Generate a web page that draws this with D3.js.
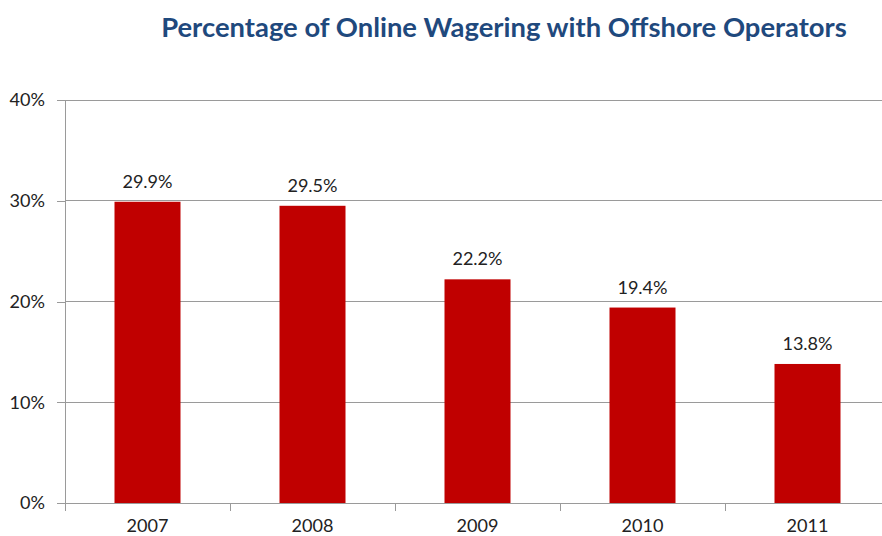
<!DOCTYPE html>
<html><head><meta charset="utf-8">
<script src="https://cdn.jsdelivr.net/npm/d3@7"></script>
<style>body{margin:0;background:#fff}svg{display:block}</style>
</head><body>
<svg id="c" width="882" height="536"></svg>
<script>
const years = ["2007","2008","2009","2010","2011"];
const values = [29.9, 29.5, 22.2, 19.4, 13.8];
const yTicks = [0, 10, 20, 30, 40];
const title = "Percentage of Online Wagering with Offshore Operators";

const svg = d3.select("#c");
const font = "Lato, 'Open Sans', sans-serif";
const mLeft = 65, mRight = 890, mTop = 100, mBottom = 503;

// scale font-size of a single text node so its width matches target
function fitSize(txt, target, weight) {
  const t = svg.append("text").attr("font-family", font).attr("font-size", 20)
    .attr("font-weight", weight || "normal").text(txt);
  const w = t.node().getComputedTextLength();
  t.remove();
  return 20 * target / w;
}

const x = d3.scaleBand().domain(years).range([mLeft, mRight]).paddingInner(0.6).paddingOuter(0.3);
const y = d3.scaleLinear().domain([0, 40]).range([mBottom, mTop]);

const titleSize = fitSize(title, 686, "bold");
svg.append("text").attr("x", 504).attr("y", 37).attr("text-anchor", "middle")
  .attr("font-family", font).attr("font-weight", "bold").attr("font-size", titleSize)
  .attr("fill", "#1F497D").text(title);

const labelSize = (fitSize("2007", 40) + fitSize("40%", 35) + fitSize("29.9%", 53)) / 3;

// gridlines
svg.append("g").selectAll("line").data(yTicks.filter(d => d > 0)).join("line")
  .attr("x1", mLeft).attr("x2", mRight).attr("y1", d => y(d)).attr("y2", d => y(d))
  .attr("stroke", "#9a9a9a").attr("stroke-width", 1).attr("shape-rendering", "crispEdges");

// y axis
const ya = svg.append("g").attr("transform", `translate(${mLeft},0)`)
  .call(d3.axisLeft(y).tickValues(yTicks).tickFormat(d => d + "%").tickSize(8).tickPadding(12));
ya.select(".domain").attr("stroke", "#9a9a9a").attr("shape-rendering", "crispEdges");
ya.selectAll(".tick line").attr("stroke", "#9a9a9a").attr("shape-rendering", "crispEdges");
ya.selectAll("text").attr("font-family", font).attr("font-size", labelSize).attr("fill", "#222");

// bars
svg.append("g").selectAll("rect").data(years).join("rect")
  .attr("x", (d) => x(d)).attr("width", x.bandwidth())
  .attr("y", (d, i) => y(values[i])).attr("height", (d, i) => y(0) - y(values[i]))
  .attr("fill", "#C00000");

// x axis
const step = x.step();
svg.append("line").attr("x1", mLeft).attr("x2", mRight).attr("y1", mBottom).attr("y2", mBottom)
  .attr("stroke", "#9a9a9a").attr("shape-rendering", "crispEdges");
svg.append("g").selectAll("line").data(d3.range(years.length + 1)).join("line")
  .attr("x1", i => mLeft + i * step).attr("x2", i => mLeft + i * step)
  .attr("y1", mBottom).attr("y2", mBottom + 8)
  .attr("stroke", "#9a9a9a").attr("shape-rendering", "crispEdges");
svg.append("g").selectAll("text").data(years).join("text")
  .attr("x", d => x(d) + x.bandwidth() / 2).attr("y", 532).attr("text-anchor", "middle")
  .attr("font-family", font).attr("font-size", labelSize).attr("fill", "#222").text(d => d);

// value labels
svg.append("g").selectAll("text").data(years).join("text")
  .attr("x", d => x(d) + x.bandwidth() / 2).attr("y", (d, i) => y(values[i]) - 14)
  .attr("text-anchor", "middle").attr("font-family", font).attr("font-size", labelSize).attr("fill", "#222")
  .text((d, i) => values[i].toFixed(1) + "%");
</script>
</body></html>
